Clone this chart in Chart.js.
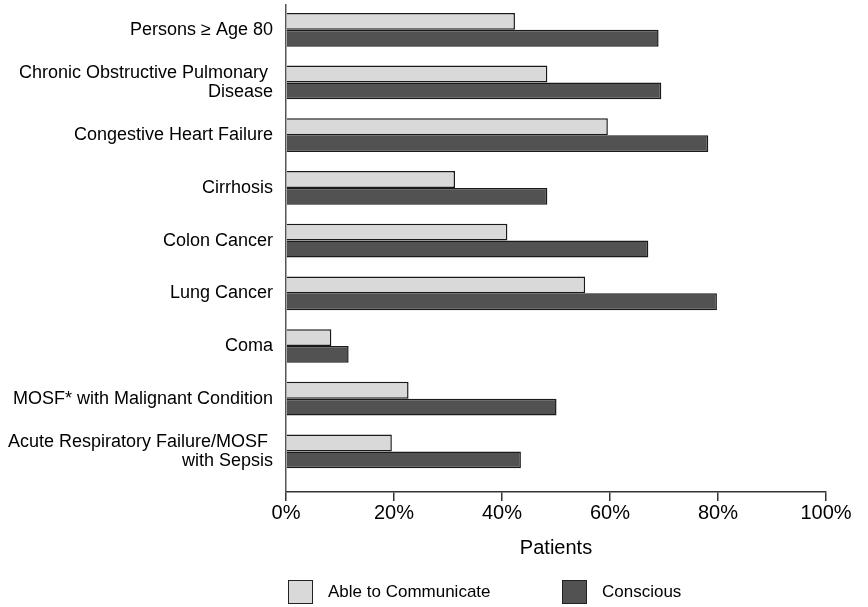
<!DOCTYPE html>
<html>
<head>
<meta charset="utf-8">
<script src="https://cdn.jsdelivr.net/npm/chart.js@4"></script>
<style>
  html, body { margin: 0; padding: 0; background: #fff; }
  #wrap { position: relative; width: 868px; height: 607px; }
  #legend { position: absolute; left: 288px; top: 580px; display: flex;
            font: 17px "Liberation Sans", Arial, sans-serif; color: #000; }
  .item { display: flex; align-items: center; width: 274px; }
  .box { width: 25px; height: 24px; border: 1px solid #222; box-sizing: border-box; margin-right: 15px; }
</style>
</head>
<body>
<div id="wrap">
  <canvas id="chart" width="868" height="607"></canvas>
  <div id="legend"></div>
</div>
<script>
// categories, top to bottom
const categories = [
  "Persons \u2265 Age 80",
  ["Chronic Obstructive Pulmonary ", "Disease"],
  "Congestive Heart Failure",
  "Cirrhosis",
  "Colon Cancer",
  "Lung Cancer",
  "Coma",
  "MOSF* with Malignant Condition",
  ["Acute Respiratory Failure/MOSF ", "with Sepsis"]
];
const ableToCommunicate = [42.4, 48.4, 59.6, 31.3, 41.0, 55.4, 8.4, 22.7, 19.6];
const conscious = [69.0, 69.5, 78.2, 48.4, 67.1, 79.8, 11.6, 50.1, 43.5];
const xTicks = [0, 20, 40, 60, 80, 100];

const seriesNames = ["Able to Communicate", "Conscious"];
const seriesColors = ["#d9d9d9", "#525252"];

const toPoints = vals => vals.map((v, i) => ({ x: v, y: i }));
const font = "'Liberation Sans', Arial, sans-serif";

const chart = new Chart(document.getElementById("chart"), {
  type: "bar",
  data: {
    datasets: [
      { label: seriesNames[0], data: toPoints(ableToCommunicate), backgroundColor: seriesColors[0] },
      { label: seriesNames[1], data: toPoints(conscious), backgroundColor: seriesColors[1] }
    ]
  },
  options: {
    indexAxis: "y",
    responsive: false,
    animation: false,
    layout: { padding: { top: 5, left: 0, right: 42, bottom: 47 } },
    datasets: {
      bar: {
        borderColor: "#1a1a1a",
        borderWidth: 1.5,
        categoryPercentage: 0.64,
        barPercentage: 1
      }
    },
    plugins: {
      legend: { display: false },
      tooltip: { enabled: false }
    },
    scales: {
      x: {
        type: "linear",
        min: 0,
        max: 100,
        afterBuildTicks: s => { s.ticks = xTicks.map(v => ({ value: v })); },
        ticks: {
          callback: v => v + "%",
          color: "#000",
          padding: 0,
          font: { family: font, size: 20 }
        },
        grid: { drawOnChartArea: false, tickLength: 9, color: "#333", lineWidth: 1.5 },
        border: { display: true, color: "#333", width: 1.5 },
        title: {
          display: true,
          text: "Patients",
          color: "#000",
          padding: { top: 11, bottom: 0 },
          font: { family: font, size: 20 }
        }
      },
      y: {
        type: "linear",
        reverse: true,
        offset: false,
        min: -0.47,
        max: 8.77,
        afterBuildTicks: s => { s.ticks = categories.map((c, i) => ({ value: i })); },
        afterFit: s => { s.width = 286; s.paddingTop = 0; s.paddingBottom = 0; },
        ticks: {
          callback: v => categories[v],
          color: "#000",
          padding: 13,
          font: { family: font, size: 18, lineHeight: 1.05 }
        },
        grid: { display: false, drawTicks: false },
        border: { display: true, color: "#555", width: 1.5 }
      }
    }
  }
});

// legend built from the dataset list
const legend = document.getElementById("legend");
chart.data.datasets.forEach(ds => {
  const item = document.createElement("div");
  item.className = "item";
  const box = document.createElement("span");
  box.className = "box";
  box.style.background = ds.backgroundColor;
  const txt = document.createElement("span");
  txt.textContent = ds.label;
  item.appendChild(box);
  item.appendChild(txt);
  legend.appendChild(item);
});
</script>
</body>
</html>
